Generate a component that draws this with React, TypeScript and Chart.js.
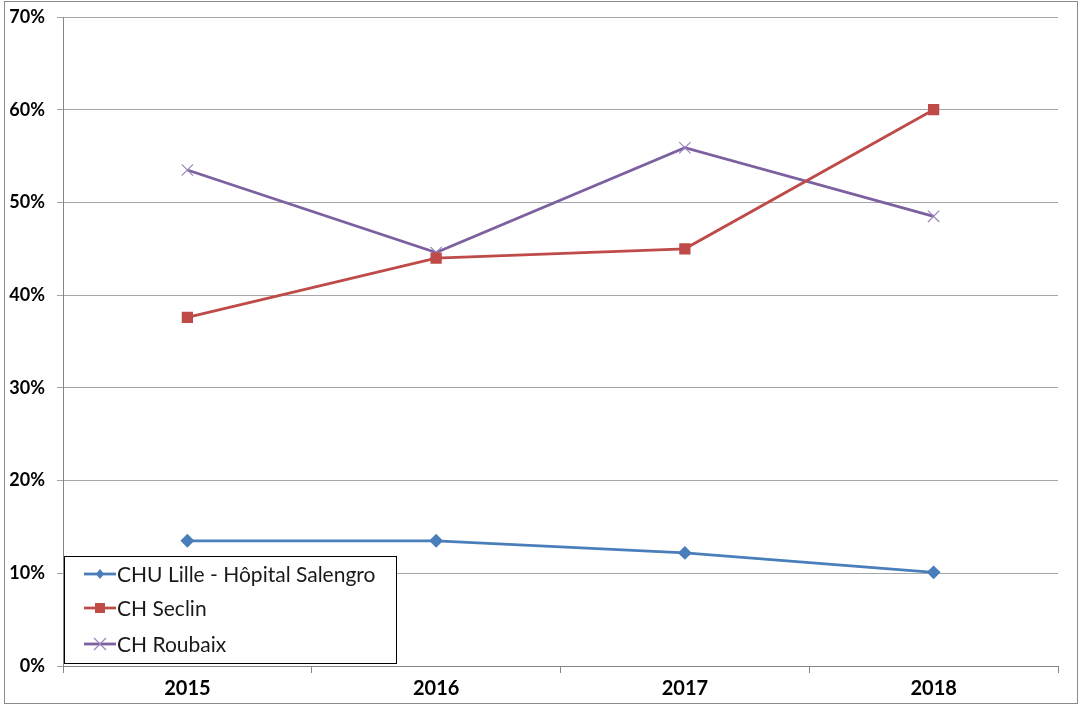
import React, { useEffect, useRef } from "react";
import { Chart, registerables } from "chart.js";

Chart.register(...registerables);

const categories = ["2015", "2016", "2017", "2018"];
const seriesNames = ["CHU Lille - Hôpital Salengro", "CH Seclin", "CH Roubaix"];
const chuLille = [13.5, 13.5, 12.2, 10.1];
const chSeclin = [37.6, 44.0, 45.0, 60.0];
const chRoubaix = [53.5, 44.6, 55.9, 48.5];
const yTicks = [0, 10, 20, 30, 40, 50, 60, 70];

const FONT = "Lato, 'Open Sans', sans-serif";

const frameAndLegend = {
  id: "frameAndLegend",
  afterDraw(chart: any) {
    const ctx = chart.ctx;
    ctx.save();
    ctx.strokeStyle = "#8a8a8a";
    ctx.lineWidth = 1;
    ctx.strokeRect(4.5, 1.5, 1073, 702);
    const bx = 64.5, by = 556.5, bw = 332, bh = 107;
    ctx.fillStyle = "#ffffff";
    ctx.fillRect(bx, by, bw, bh);
    ctx.strokeStyle = "#000000";
    ctx.strokeRect(bx, by, bw, bh);
    const rows = [574, 608, 644];
    chart.data.datasets.forEach((ds: any, i: number) => {
      const y = rows[i];
      ctx.strokeStyle = ds.borderColor;
      ctx.lineWidth = 2.8;
      ctx.beginPath();
      ctx.moveTo(84, y);
      ctx.lineTo(116, y);
      ctx.stroke();
      ctx.fillStyle = ds.pointBackgroundColor;
      ctx.strokeStyle = ds.pointBorderColor;
      const cx = 100;
      if (ds.pointStyle === "rectRot") {
        ctx.beginPath();
        ctx.moveTo(cx, y - 5);
        ctx.lineTo(cx + 4, y);
        ctx.lineTo(cx, y + 5);
        ctx.lineTo(cx - 4, y);
        ctx.closePath();
        ctx.fill();
      } else if (ds.pointStyle === "rect") {
        ctx.fillRect(cx - 5, y - 5, 10, 10);
      } else {
        ctx.lineWidth = 1.2;
        ctx.beginPath();
        ctx.moveTo(cx - 6, y - 6);
        ctx.lineTo(cx + 6, y + 6);
        ctx.moveTo(cx + 6, y - 6);
        ctx.lineTo(cx - 6, y + 6);
        ctx.stroke();
      }
      ctx.fillStyle = "#1a1a1a";
      ctx.font = `21px ${FONT}`;
      ctx.textAlign = "left";
      ctx.textBaseline = "middle";
      ctx.fillText(ds.label, 117, y + 1);
    });
    ctx.restore();
  },
};

export default function App() {
  const ref = useRef<HTMLCanvasElement>(null);
  useEffect(() => {
    if (!ref.current) return;
    const chart = new Chart(ref.current, {
      type: "line",
      data: {
        labels: categories,
        datasets: [
          {
            label: seriesNames[0],
            data: chuLille,
            borderColor: "#4A7EBB",
            backgroundColor: "#4A7EBB",
            pointBackgroundColor: "#4A7EBB",
            pointBorderColor: "#4A7EBB",
            pointStyle: "rectRot",
            pointRadius: 5,
            borderWidth: 2.8,
            tension: 0,
          },
          {
            label: seriesNames[1],
            data: chSeclin,
            borderColor: "#BE4B48",
            backgroundColor: "#BE4B48",
            pointBackgroundColor: "#BE4B48",
            pointBorderColor: "#BE4B48",
            pointStyle: "rect",
            pointRadius: 6,
            borderWidth: 2.8,
            tension: 0,
          },
          {
            label: seriesNames[2],
            data: chRoubaix,
            borderColor: "#7D60A0",
            backgroundColor: "#7D60A0",
            pointBackgroundColor: "#9A86BC",
            pointBorderColor: "#9A86BC",
            pointStyle: "crossRot",
            pointRadius: 8,
            pointBorderWidth: 1.2,
            borderWidth: 2.8,
            tension: 0,
          },
        ],
      },
      options: {
        responsive: false,
        animation: false,
        layout: { padding: { top: 17, right: 22, left: 0, bottom: 0 } },
        plugins: { legend: { display: false }, tooltip: { enabled: false } },
        scales: {
          x: {
            type: "category",
            offset: true,
            grid: {
              offset: true,
              drawOnChartArea: false,
              drawTicks: true,
              tickLength: 7,
              color: "#868686",
            },
            border: { color: "#868686", width: 1 },
            ticks: {
              color: "#000000",
              font: { family: FONT, size: 20, weight: "bold" },
              padding: 4,
            },
            afterFit(scale: any) {
              scale.height = 41;
              scale.paddingLeft = 0;
              scale.paddingRight = 0;
            },
          },
          y: {
            min: 0,
            max: 70,
            afterBuildTicks(scale: any) {
              scale.ticks = yTicks.map((v) => ({ value: v }));
            },
            grid: {
              color: "#A6A6A6",
              tickLength: 6,
              drawTicks: true,
            },
            border: { color: "#868686", width: 1 },
            ticks: {
              color: "#000000",
              font: { family: FONT, size: 18, weight: "bold" },
              padding: 12,
              callback: (v: any) => `${v}%`,
            },
            afterFit(scale: any) {
              scale.width = 63;
              scale.paddingTop = 0;
              scale.paddingBottom = 0;
            },
          },
        },
      },
      plugins: [frameAndLegend],
    });
    return () => chart.destroy();
  }, []);
  return (
    <div style={{ position: "fixed", left: 0, top: 0, width: 1080, height: 707, background: "#fff" }}>
      <canvas ref={ref} width={1080} height={707} style={{ width: 1080, height: 707 }} />
    </div>
  );
}
